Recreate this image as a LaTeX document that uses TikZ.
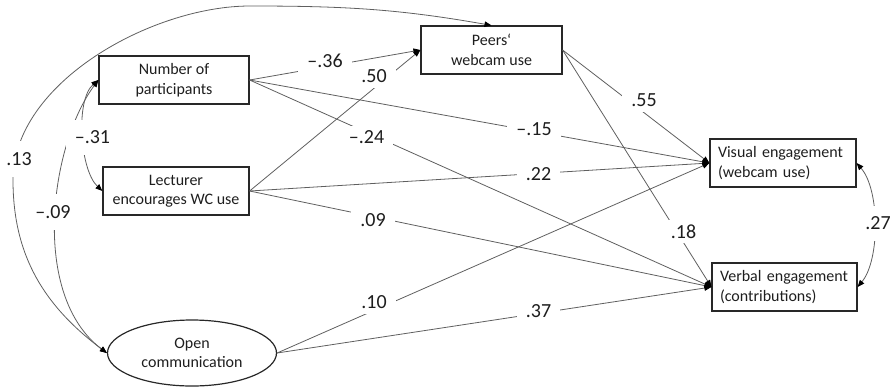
\documentclass[tikz,border=0pt]{standalone}
\usepackage{fontspec}
\setmainfont{Carlito}
\usetikzlibrary{arrows.meta,shapes.geometric}
\definecolor{linec}{RGB}{95,95,95}
\definecolor{boxc}{RGB}{40,40,40}
\definecolor{txtc}{RGB}{30,30,30}
\begin{document}
\begin{tikzpicture}[x=1pt,y=1pt,
  box/.style={draw=boxc, line width=1.2pt, text=txtc, font=\fontsize{16}{19.5}\selectfont, align=center, inner sep=0pt, minimum height=48pt},
  lbl/.style={fill=white, text=txtc, font=\fontsize{20}{24}\selectfont, inner xsep=9pt, inner ysep=5pt},
  lblv/.style={lbl, inner ysep=11pt},
  conn/.style={draw=linec, line width=0.8pt, -{Triangle[length=7pt,width=5.5pt,color=black]}},
  cov/.style={draw=linec, line width=0.8pt, {Triangle[length=7pt,width=5.5pt,color=black]}-{Triangle[length=7pt,width=5.5pt,color=black]}}
]
\useasboundingbox (0,0) rectangle (894,-386);

\node[box, minimum width=150pt] (num) at (174,-80) {Number of\\participants};
\node[box, minimum width=146pt] (lec) at (176,-191) {Lecturer\\encourages WC use};
\node[box, minimum width=141pt] (peer) at (491.5,-50) {Peers‘\\webcam use};
\node[box, minimum width=146pt, text width=130pt, align=left] (vis) at (783,-163) {Visual engagement\\(webcam use)};
\node[box, minimum width=145pt, text width=129pt, align=left] (verb) at (784.5,-287) {Verbal engagement\\(contributions)};
\node[box, ellipse, minimum width=169pt, minimum height=66pt] (open) at (192,-353) {Open\\communication};

\draw[conn] (num.east) -- (peer.west);
\draw[conn] (lec.east) -- (peer.west);
\draw[conn] (num.east) -- (vis.west);
\draw[conn] (num.east) -- (verb.west);
\draw[conn] (lec.east) -- (vis.west);
\draw[conn] (lec.east) -- (verb.west);
\draw[conn] (peer.east) -- (vis.west);
\draw[conn] (peer.east) -- (verb.west);
\draw[conn] (open.east) -- (vis.west);
\draw[conn] (open.east) -- (verb.west);

\draw[cov] (num.west) .. controls (75,-100) and (80,-170) .. (lec.west);
\draw[cov] (num.west) .. controls (50,-145) and (30,-295) .. (open.west);
\draw[cov] (open.west) to[out=143,in=-90] (13,-180) to[out=90,in=180,looseness=0.85] (250,-6) to[out=0,in=170] (peer.north);
\draw[cov] (vis.east) .. controls (880,-190) and (880,-260) .. (verb.east);

\node[lbl] (l36) at (325,-61) {–.36};
\node[lbl] (l50) at (374,-76) {.50};
\node[lbl] (l24) at (366.5,-137.5) {–.24};
\node[lbl] (l15) at (534,-129) {–.15};
\node[lbl] (l55) at (644,-100.5) {.55};
\node[lbl] (l22) at (538.5,-174) {.22};
\node[lbl] (l09) at (373,-220) {.09};
\node[lbl] (l10) at (374,-302.5) {.10};
\node[lbl] (l18) at (683.5,-231.5) {.18};
\node[lbl] (l37) at (538.5,-311.5) {.37};
\node[lblv] (l31) at (92.5,-137.5) {–.31};
\node[lblv] (l13) at (19,-159) {.13};
\node[lblv] (l09b) at (53,-212) {–.09};
\node[lblv] (l27) at (878,-223.5) {.27};
\end{tikzpicture}
\end{document}
